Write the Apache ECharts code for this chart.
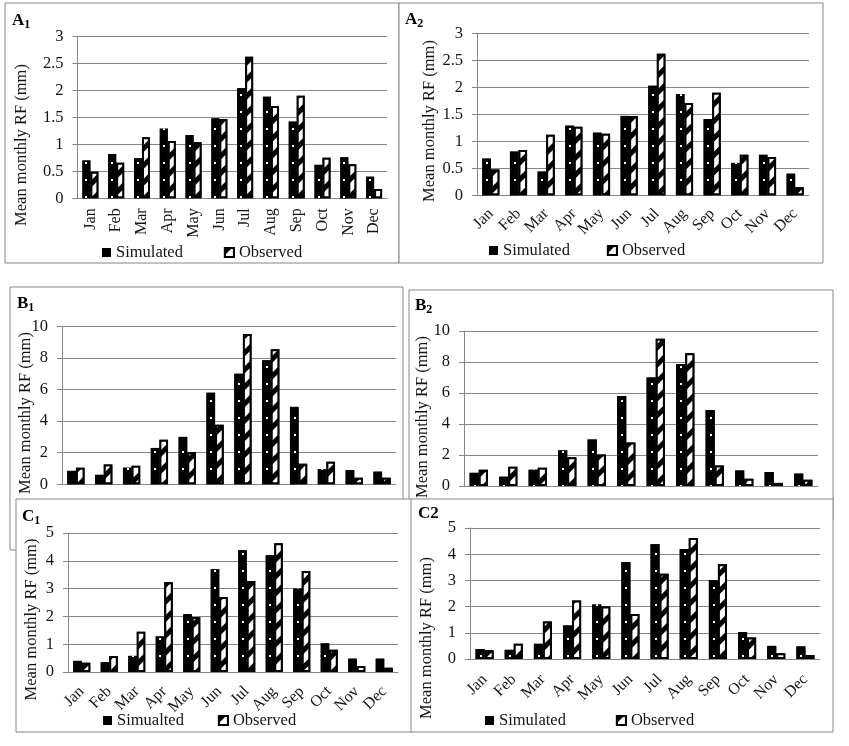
<!DOCTYPE html>
<html>
<head>
<meta charset="utf-8">
<style>
    html, body { margin: 0; padding: 0; background: #fff; }
    #chart { width: 849px; height: 746px; }
</style>
<script src="https://cdn.jsdelivr.net/npm/echarts@6/dist/echarts.min.js"></script>
</head>
<body>
<div id="chart"></div>
<script>
const months = ['Jan', 'Feb', 'Mar', 'Apr', 'May', 'Jun', 'Jul', 'Aug', 'Sep', 'Oct', 'Nov', 'Dec'];

const a1Simulated = [0.7, 0.82, 0.74, 1.29, 1.17, 1.48, 2.04, 1.88, 1.42, 0.62, 0.76, 0.4];
const a1Observed = [0.49, 0.66, 1.13, 1.06, 1.04, 1.47, 2.62, 1.71, 1.9, 0.75, 0.63, 0.17];
const a2Simulated = [0.68, 0.81, 0.44, 1.29, 1.16, 1.47, 2.03, 1.87, 1.41, 0.6, 0.75, 0.4];
const a2Observed = [0.48, 0.84, 1.12, 1.27, 1.14, 1.47, 2.62, 1.71, 1.9, 0.75, 0.71, 0.15];
const b1Simulated = [0.85, 0.6, 1.05, 2.3, 3, 5.8, 7, 7.85, 4.9, 0.95, 0.9, 0.8];
const b1Observed = [1.05, 1.25, 1.18, 2.82, 2.03, 3.77, 9.52, 8.55, 1.3, 1.42, 0.42, 0.42];
const b2Simulated = [0.85, 0.6, 1.05, 2.3, 3, 5.8, 7, 7.85, 4.9, 1, 0.9, 0.8];
const b2Observed = [1.05, 1.25, 1.18, 1.85, 2.03, 2.8, 9.5, 8.57, 1.33, 0.47, 0.2, 0.4];
const c1Simulated = [0.4, 0.35, 0.58, 1.28, 2.08, 3.7, 4.38, 4.2, 3, 1.03, 0.48, 0.48];
const c1Observed = [0.33, 0.58, 1.45, 3.23, 1.98, 2.7, 3.27, 4.63, 3.63, 0.8, 0.22, 0.15];
const c2Simulated = [0.38, 0.35, 0.58, 1.28, 2.08, 3.7, 4.38, 4.2, 3, 1.03, 0.5, 0.48];
const c2Observed = [0.33, 0.58, 1.43, 2.23, 2, 1.72, 3.25, 4.62, 3.62, 0.82, 0.22, 0.15];

const FONT = '"Liberation Serif", "Times New Roman", serif';
const INK = '#141414';
const GRID = '#868686';

// frame = [left, top, right, bottom], plot = [left, top, right, bottom]
const panels = [
    { label: 'A', sub: '1', labelAt: [12, 21], frame: [5, 3, 399, 263], plot: [77.5, 36.3, 387, 198.3], max: 3, step: 0.5, sim: a1Simulated, obs: a1Observed, simName: 'Simulated', titleAt: [22, 145], rotate: 90, margin: 10, legend: [102, 244, 41], z: 0 },
    { label: 'A', sub: '2', labelAt: [405, 20], frame: [399, 3, 823, 263], plot: [477, 33.3, 809, 195.3], max: 3, step: 0.5, sim: a2Simulated, obs: a2Observed, simName: 'Simulated', titleAt: [430, 121], rotate: 45, margin: 16, legend: [489, 242, 37], z: 0 },
    { label: 'B', sub: '1', labelAt: [17, 304], frame: [10, 287, 403, 550], plot: [62, 326.3, 396, 484.3], max: 10, step: 2, sim: b1Simulated, obs: b1Observed, simName: 'Simulated', titleAt: [26, 413], z: 0 },
    { label: 'B', sub: '2', labelAt: [415, 306], frame: [409, 290, 833, 520], plot: [464, 331, 818, 486], max: 10, step: 2, sim: b2Simulated, obs: b2Observed, simName: 'Simulated', titleAt: [423, 417], z: 0 },
    { label: 'C', sub: '1', labelAt: [22, 517], frame: [16, 499, 412, 732], plot: [68, 533, 398, 672], max: 5, step: 1, sim: c1Simulated, obs: c1Observed, simName: 'Simualted', titleAt: [32, 619.5], rotate: 45, margin: 17, legend: [103, 712, 34], z: 20 },
    { label: 'C2', sub: '', labelAt: [418, 514], frame: [411, 499, 833, 732], plot: [470, 528, 820, 659], max: 5, step: 1, sim: c2Simulated, obs: c2Observed, simName: 'Simulated', titleAt: [427, 638], rotate: 45, margin: 18, legend: [485, 712, 50], z: 20 }
];

// one dot column per simulated bar, repeating every 12 categories
function dotColumns (plot) {
    const width = plot[2] - plot[0];
    const period = Math.round(width);
    const starts = months.map((m, k) => {
        const barMiddle = plot[0] + width * (k + 0.5) / 12 - 4;
        return Math.round(barMiddle - 1) % period;
    }).sort((a, b) => a - b);
    const dash = [];
    let at = 0;
    starts.forEach(s => {
        dash.push(at === 0 ? 0 : 2, at === 0 ? s : s - at);
        at = s + 2;
    });
    dash.push(2, period - at);
    return dash;
}

const grid = [], xAxis = [], yAxis = [], series = [], legend = [], graphic = [];

panels.forEach((p, i) => {
    const [pl, pt, pr, pb] = p.plot;
    const [fl, ft, fr, fb] = p.frame;

    graphic.push({
        type: 'rect',
        z: p.z - 2,
        shape: { x: fl, y: ft, width: fr - fl, height: fb - ft },
        style: { fill: '#fff', stroke: GRID, lineWidth: 1 }
    });
    graphic.push({
        type: 'text',
        z: p.z + 6,
        x: p.labelAt[0],
        y: p.labelAt[1],
        style: {
            text: '{m|' + p.label + '}' + (p.sub ? '{s|' + p.sub + '}' : ''),
            verticalAlign: 'middle',
            rich: {
                m: { font: 'bold 17px ' + FONT, fill: '#000' },
                s: { font: 'bold 12px ' + FONT, fill: '#000', padding: [7, 0, 0, 0] }
            }
        }
    });
    graphic.push({
        type: 'text',
        z: p.z + 6,
        x: p.titleAt[0],
        y: p.titleAt[1],
        rotation: Math.PI / 2,
        style: {
            text: 'Mean monthly RF (mm)',
            font: '16.5px ' + FONT,
            fill: INK,
            textAlign: 'center',
            verticalAlign: 'middle'
        }
    });

    grid.push({ left: pl, top: pt, width: pr - pl, height: pb - pt, z: p.z });
    xAxis.push({
        type: 'category',
        gridIndex: i,
        data: months,
        z: p.z + 1,
        axisLine: { lineStyle: { color: GRID, width: 1 } },
        axisTick: { show: false },
        axisLabel: p.rotate ? {
            interval: 0,
            rotate: p.rotate,
            margin: p.margin,
            color: INK,
            fontFamily: FONT,
            fontSize: 16
        } : { show: false }
    });
    yAxis.push({
        type: 'value',
        gridIndex: i,
        min: 0,
        max: p.max,
        interval: p.step,
        z: p.z + 1,
        axisLine: { show: true, lineStyle: { color: GRID, width: 1 } },
        axisTick: { show: true, length: 5, lineStyle: { color: GRID, width: 1 } },
        axisLabel: { margin: 14, color: INK, fontFamily: FONT, fontSize: 16.5 },
        splitLine: { lineStyle: { color: GRID, width: 1 } }
    });
    series.push({
        name: p.simName,
        type: 'bar',
        xAxisIndex: i,
        yAxisIndex: i,
        data: p.sim,
        barWidth: '31%',
        barGap: '0%',
        z: p.z + 2,
        itemStyle: {
            color: '#000',
            decal: {
                symbol: 'rect',
                symbolSize: 1,
                color: '#fff',
                backgroundColor: '#000',
                dashArrayX: dotColumns(p.plot),
                dashArrayY: [0, 9, 2, 6]
            }
        }
    });
    series.push({
        name: 'Observed',
        type: 'bar',
        xAxisIndex: i,
        yAxisIndex: i,
        data: p.obs,
        barWidth: '31%',
        barGap: '0%',
        z: p.z + 3,
        itemStyle: {
            color: '#fff',
            borderColor: '#000',
            borderWidth: 2,
            decal: {
                symbol: 'rect',
                symbolSize: 1,
                color: '#000',
                backgroundColor: '#fff',
                dashArrayX: [1, 0],
                dashArrayY: [5, 7],
                rotation: -Math.PI / 4
            }
        }
    });
    if (p.legend) {
        legend.push({
            left: p.legend[0],
            top: p.legend[1],
            z: p.z + 5,
            padding: 0,
            icon: 'rect',
            itemWidth: 9,
            itemHeight: 9,
            itemGap: p.legend[2],
            selectedMode: false,
            textStyle: { color: INK, fontFamily: FONT, fontSize: 16.5 },
            data: [p.simName, 'Observed']
        });
    }
});

const chart = echarts.init(document.getElementById('chart'));
chart.setOption({
    animation: false,
    backgroundColor: '#fff',
    grid,
    xAxis,
    yAxis,
    series,
    legend,
    graphic
});
</script>
</body>
</html>
